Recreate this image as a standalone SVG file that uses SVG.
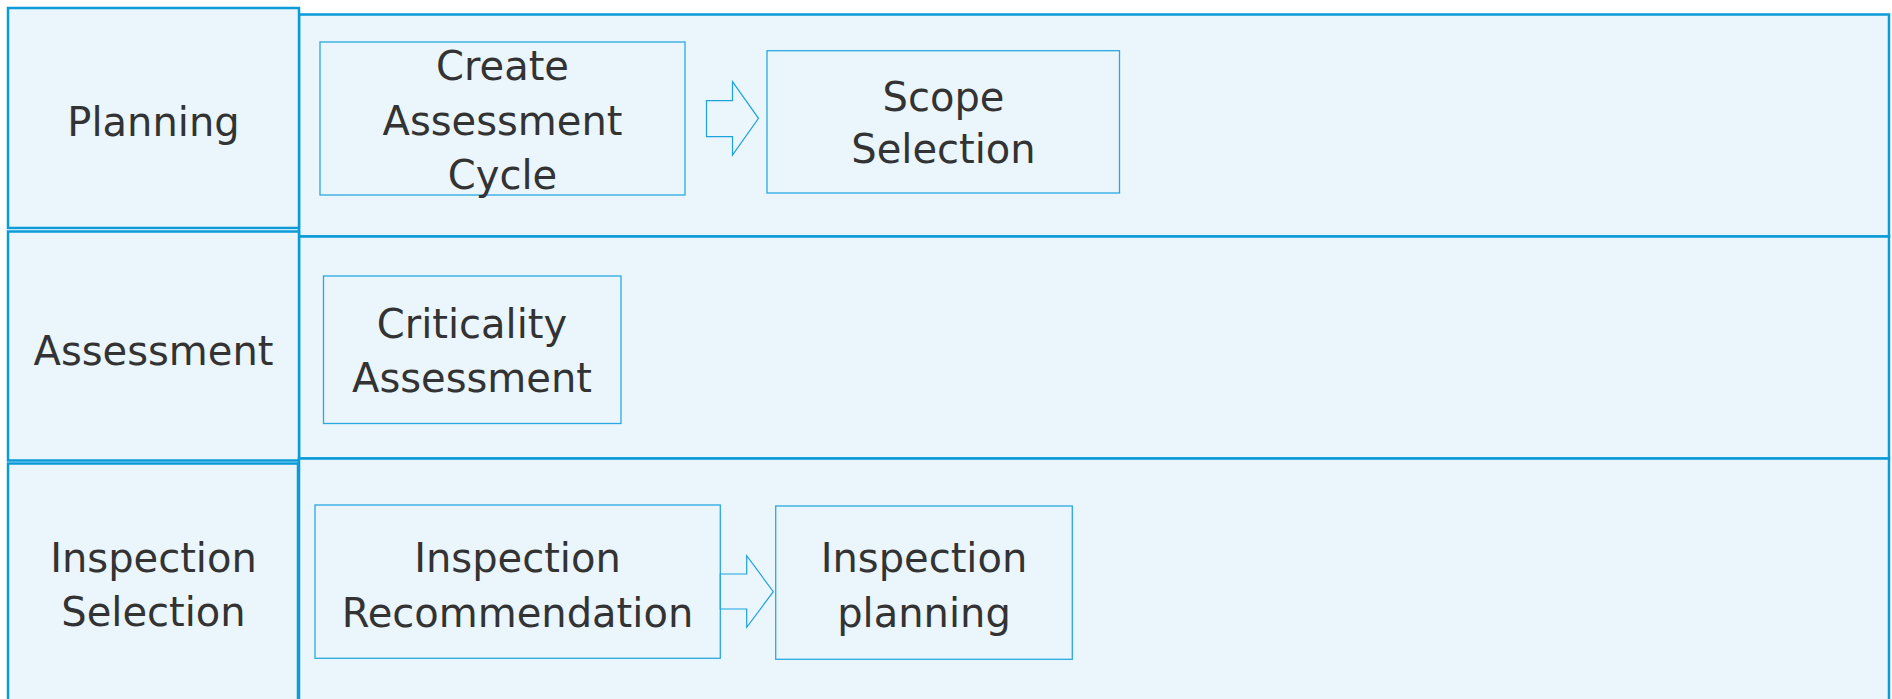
<svg xmlns="http://www.w3.org/2000/svg" width="1892" height="699" viewBox="0 0 1892 699">
  <style>
    .lane { fill: #eaf5fc; stroke: #0a9bd8; stroke-width: 2.5; }
    .hdr { fill: #eaf5fc; stroke: #0a9bd8; stroke-width: 2.5; }
    .box { fill: #eaf5fc; stroke: #2aa9e0; stroke-width: 1.3; }
    .arrow { fill: #eaf5fc; stroke: #1aa3dd; stroke-width: 1.2; stroke-linejoin: miter; }
    text { font-family: "DejaVu Sans", Verdana, sans-serif; font-size: 40px; fill: #333333; text-anchor: middle; }
  </style>
  <rect width="1892" height="699" fill="#ffffff"/>

  <g id="lane-planning">
    <rect class="lane" x="299" y="14.5" width="1590" height="222"/>
    <rect class="hdr" x="8" y="8" width="291" height="220"/>
    <text x="153.5" y="135.5">Planning</text>
  </g>
  <g id="lane-assessment">
    <rect class="lane" x="299" y="236.5" width="1590" height="222"/>
    <rect class="hdr" x="8" y="231.5" width="291" height="229"/>
    <text x="153.5" y="365">Assessment</text>
  </g>
  <g id="lane-inspection">
    <rect class="lane" x="299" y="458.5" width="1590" height="260"/>
    <rect class="hdr" x="8" y="463.5" width="290" height="260"/>
    <text x="153.5" y="571.7">Inspection</text>
    <text x="153.5" y="626">Selection</text>
  </g>

  <g id="node-create">
    <rect class="box" x="320" y="42" width="365" height="153"/>
    <text x="502.5" y="80">Create</text>
    <text x="502.5" y="134.5">Assessment</text>
    <text x="502.5" y="189">Cycle</text>
  </g>
  <g id="node-scope">
    <rect class="box" x="767" y="50.7" width="352.5" height="142.3"/>
    <text x="943.5" y="110.7">Scope</text>
    <text x="943.5" y="163">Selection</text>
  </g>
  <g id="node-criticality">
    <rect class="box" x="323.5" y="276" width="297.5" height="147.5"/>
    <text x="472" y="338.3">Criticality</text>
    <text x="472" y="391.7">Assessment</text>
  </g>
  <g id="node-recommendation">
    <rect class="box" x="315" y="505" width="405.3" height="153.3"/>
    <text x="517.5" y="571.7">Inspection</text>
    <text x="517.5" y="626.7">Recommendation</text>
  </g>
  <g id="node-planning">
    <rect class="box" x="775.7" y="506" width="296.6" height="153.3"/>
    <text x="924" y="571.7">Inspection</text>
    <text x="924" y="626.7">planning</text>
  </g>

  <g id="connectors">
    <polygon class="arrow" points="706.5,100.7 732.5,100.7 732.5,81.7 758.5,118.3 732.5,155 732.5,136.7 706.5,136.7"/>
    <polygon class="arrow" points="720.3,574 746.7,574 746.7,555.7 773.3,591.7 746.7,627.3 746.7,609 720.3,609"/>
  </g>
</svg>
